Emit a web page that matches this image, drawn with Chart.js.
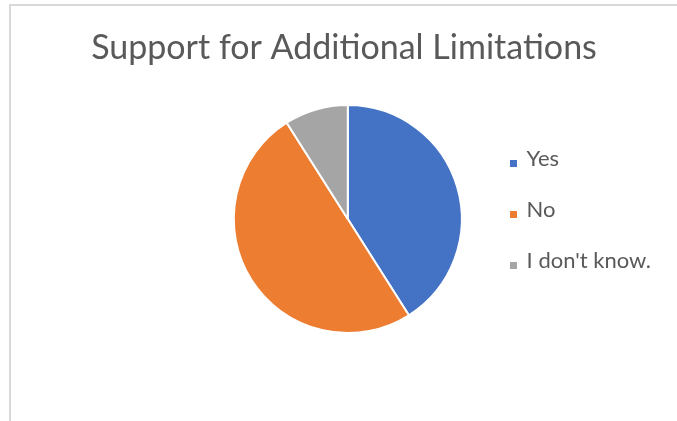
<!DOCTYPE html>
<html>
<head>
<meta charset="utf-8">
<script src="https://cdn.jsdelivr.net/npm/chart.js@4.4.1/dist/chart.umd.min.js"></script>
<style>
    html, body { margin: 0; padding: 0; background: #ffffff; overflow: hidden; }
    #frame {
        position: absolute; left: 9px; top: 4px; width: 700px; height: 440px;
        border-top: 2px solid #d9d9d9; border-left: 2px solid #d9d9d9;
    }
    #chartBox { position: absolute; left: 0; top: 0; width: 677px; height: 421px; }
</style>
</head>
<body>
<div id="frame"></div>
<div id="chartBox"><canvas id="supportChart" width="677" height="421"></canvas></div>
<script>
// Survey answers.
const answers = ['Yes', 'No', "I don't know."];
const shares = [41, 50, 9];
const sliceColors = ['#4472C4', '#ED7D31', '#A5A5A5'];

const textGray = '#595959';
const fontFamily = 'Lato, "Open Sans", sans-serif';

// Small square marker that sits on the text baseline, like the Excel legend.
function legendSquare(color) {
    const canvas = document.createElement('canvas');
    canvas.width = 7;
    canvas.height = 18;
    const ctx = canvas.getContext('2d');
    ctx.fillStyle = color;
    ctx.fillRect(0, 10, 7, 7);
    return canvas;
}

// The title is centred on the whole frame, not on the space left of the legend.
const centreTitle = {
    id: 'centreTitle',
    afterLayout(chart) {
        const t = chart.titleBlock;
        if (!t) return;
        t.left = 0;
        t.right = 688;
        t.width = 688;
    }
};

new Chart(document.getElementById('supportChart').getContext('2d'), {
    type: 'pie',
    data: {
        labels: answers,
        datasets: [{
            data: shares,
            backgroundColor: sliceColors,
            borderColor: '#ffffff',
            borderWidth: 2,
            hoverOffset: 0
        }]
    },
    options: {
        responsive: false,
        animation: false,
        devicePixelRatio: 1,
        radius: 114,
        layout: {
            padding: { left: 214, right: 16, top: 0, bottom: 63 }
        },
        plugins: {
            title: {
                display: true,
                text: 'Support for Additional Limitations',
                color: textGray,
                font: { family: fontFamily, size: 34, weight: 'normal', lineHeight: '40px' },
                padding: { top: 28, bottom: 12 }
            },
            legend: {
                display: true,
                position: 'right',
                align: 'start',
                fullSize: false,
                title: {
                    display: true,
                    text: ' ',
                    font: { size: 10, lineHeight: '12px' },
                    padding: { top: 0, bottom: 27 }
                },
                labels: {
                    usePointStyle: true,
                    boxWidth: 5,
                    boxHeight: 7,
                    padding: 29,
                    color: textGray,
                    font: { family: fontFamily, size: 22 },
                    generateLabels: (chart) => answers.map((label, i) => ({
                        text: label,
                        fillStyle: sliceColors[i],
                        strokeStyle: sliceColors[i],
                        fontColor: textGray,
                        lineWidth: 0,
                        pointStyle: legendSquare(sliceColors[i]),
                        hidden: !chart.getDataVisibility(i),
                        index: i
                    }))
                }
            },
            tooltip: { enabled: false }
        }
    },
    plugins: [centreTitle]
});
</script>
</body>
</html>
